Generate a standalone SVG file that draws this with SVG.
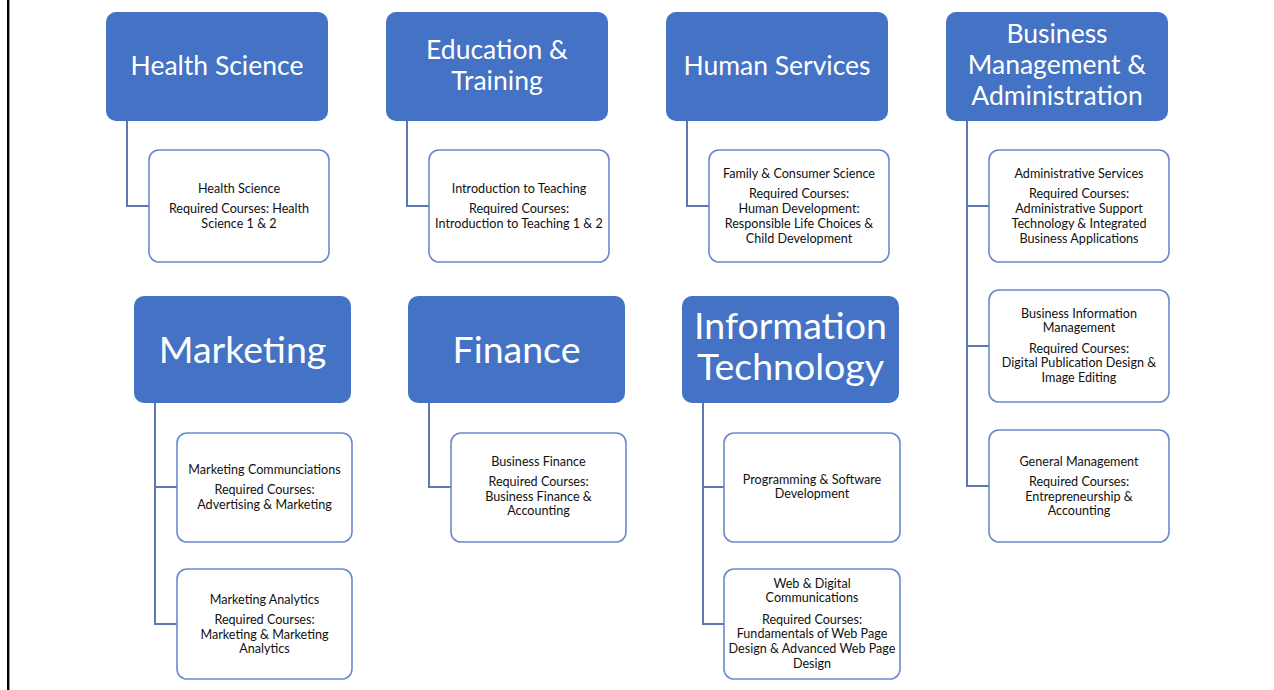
<svg xmlns="http://www.w3.org/2000/svg" width="1274" height="690" viewBox="0 0 1274 690">
<style>
.hdr{fill:#4472C4;}
.box{fill:#ffffff;stroke:#6A8BCB;stroke-width:1.6;}
.ht{font-family:Lato,"Liberation Sans",sans-serif;fill:#ffffff;text-anchor:middle;font-size:26.5px;}
.hb{font-family:Lato,"Liberation Sans",sans-serif;fill:#ffffff;text-anchor:middle;font-size:37.5px;}
.ct{font-family:Lato,"Liberation Sans",sans-serif;fill:#111111;text-anchor:middle;font-size:12.6px;}
.conn{fill:none;stroke:#5B78B3;stroke-width:2;}
</style>
<rect x="0" y="0" width="1274" height="690" fill="#ffffff"/>
<line x1="8.2" y1="0" x2="8.2" y2="690" stroke="#000000" stroke-width="2.4"/>

<g id="connectors">
<path class="conn" d="M127,121 V206 H149"/>
<path class="conn" d="M407,121 V206 H429"/>
<path class="conn" d="M687,121 V206 H709"/>
<path class="conn" d="M967,121 V486 H989 M967,206 H989 M967,346 H989"/>
<path class="conn" d="M155,403 V624 H177 M155,487 H177"/>
<path class="conn" d="M429,403 V487 H451"/>
<path class="conn" d="M703,403 V624 H724 M703,487 H724"/>
</g>

<g id="health-science">
<rect class="hdr" x="106" y="12" width="222" height="109" rx="10"/>
<text class="ht" x="217" y="75">Health Science</text>
</g>
<g id="health-science-course">
<rect class="box" x="149" y="150" width="180" height="112" rx="10"/>
<text class="ct" x="239" y="193">Health Science</text>
<text class="ct" x="239" y="213">Required Courses: Health</text>
<text class="ct" x="239" y="228">Science 1 &amp; 2</text>
</g>

<g id="education-training">
<rect class="hdr" x="386" y="12" width="222" height="109" rx="10"/>
<text class="ht"><tspan x="497" y="59">Education &amp;</tspan><tspan x="497" y="90">Training</tspan></text>
</g>
<g id="intro-teaching">
<rect class="box" x="429" y="150" width="180" height="112" rx="10"/>
<text class="ct" x="519" y="193">Introduction to Teaching</text>
<text class="ct" x="519" y="213">Required Courses:</text>
<text class="ct" x="519" y="228">Introduction to Teaching 1 &amp; 2</text>
</g>

<g id="human-services">
<rect class="hdr" x="666" y="12" width="222" height="109" rx="10"/>
<text class="ht" x="777" y="75">Human Services</text>
</g>
<g id="family-consumer">
<rect class="box" x="709" y="150" width="180" height="112" rx="10"/>
<text class="ct" x="799" y="178">Family &amp; Consumer Science</text>
<text class="ct" x="799" y="198">Required Courses:</text>
<text class="ct" x="799" y="213">Human Development:</text>
<text class="ct" x="799" y="228">Responsible Life Choices &amp;</text>
<text class="ct" x="799" y="243">Child Development</text>
</g>

<g id="business-management">
<rect class="hdr" x="946" y="12" width="222" height="109" rx="10"/>
<text class="ht"><tspan x="1057" y="43">Business</tspan><tspan x="1057" y="74">Management &amp;</tspan><tspan x="1057" y="105">Administration</tspan></text>
</g>
<g id="administrative-services">
<rect class="box" x="989" y="150" width="180" height="112" rx="10"/>
<text class="ct" x="1079" y="178">Administrative Services</text>
<text class="ct" x="1079" y="198">Required Courses:</text>
<text class="ct" x="1079" y="213">Administrative Support</text>
<text class="ct" x="1079" y="228">Technology &amp; Integrated</text>
<text class="ct" x="1079" y="243">Business Applications</text>
</g>
<g id="business-information">
<rect class="box" x="989" y="290" width="180" height="112" rx="10"/>
<text class="ct" x="1079" y="318">Business Information</text>
<text class="ct" x="1079" y="332">Management</text>
<text class="ct" x="1079" y="353">Required Courses:</text>
<text class="ct" x="1079" y="367">Digital Publication Design &amp;</text>
<text class="ct" x="1079" y="382">Image Editing</text>
</g>
<g id="general-management">
<rect class="box" x="989" y="430" width="180" height="112" rx="10"/>
<text class="ct" x="1079" y="466">General Management</text>
<text class="ct" x="1079" y="486">Required Courses:</text>
<text class="ct" x="1079" y="501">Entrepreneurship &amp;</text>
<text class="ct" x="1079" y="515">Accounting</text>
</g>

<g id="marketing">
<rect class="hdr" x="134" y="296" width="217" height="107" rx="10"/>
<text class="hb" x="242.5" y="363">Marketing</text>
</g>
<g id="marketing-communications">
<rect class="box" x="177" y="433" width="175" height="109" rx="10"/>
<text class="ct" x="264.5" y="474">Marketing Communciations</text>
<text class="ct" x="264.5" y="494">Required Courses:</text>
<text class="ct" x="264.5" y="509">Advertising &amp; Marketing</text>
</g>
<g id="marketing-analytics">
<rect class="box" x="177" y="569" width="175" height="110" rx="10"/>
<text class="ct" x="264.5" y="604">Marketing Analytics</text>
<text class="ct" x="264.5" y="624">Required Courses:</text>
<text class="ct" x="264.5" y="639">Marketing &amp; Marketing</text>
<text class="ct" x="264.5" y="653">Analytics</text>
</g>

<g id="finance">
<rect class="hdr" x="408" y="296" width="217" height="107" rx="10"/>
<text class="hb" x="516.5" y="363">Finance</text>
</g>
<g id="business-finance">
<rect class="box" x="451" y="433" width="175" height="109" rx="10"/>
<text class="ct" x="538.5" y="466">Business Finance</text>
<text class="ct" x="538.5" y="486">Required Courses:</text>
<text class="ct" x="538.5" y="501">Business Finance &amp;</text>
<text class="ct" x="538.5" y="515">Accounting</text>
</g>

<g id="information-technology">
<rect class="hdr" x="682" y="296" width="217" height="107" rx="10"/>
<text class="hb"><tspan x="790.5" y="339">Information</tspan><tspan x="790.5" y="380">Technology</tspan></text>
</g>
<g id="programming-software">
<rect class="box" x="724" y="433" width="176" height="109" rx="10"/>
<text class="ct" x="812" y="484">Programming &amp; Software</text>
<text class="ct" x="812" y="498">Development</text>
</g>
<g id="web-digital">
<rect class="box" x="724" y="569" width="176" height="110" rx="10"/>
<text class="ct" x="812" y="588">Web &amp; Digital</text>
<text class="ct" x="812" y="602">Communications</text>
<text class="ct" x="812" y="624">Required Courses:</text>
<text class="ct" x="812" y="638">Fundamentals of Web Page</text>
<text class="ct" x="812" y="653">Design &amp; Advanced Web Page</text>
<text class="ct" x="812" y="668">Design</text>
</g>
</svg>
